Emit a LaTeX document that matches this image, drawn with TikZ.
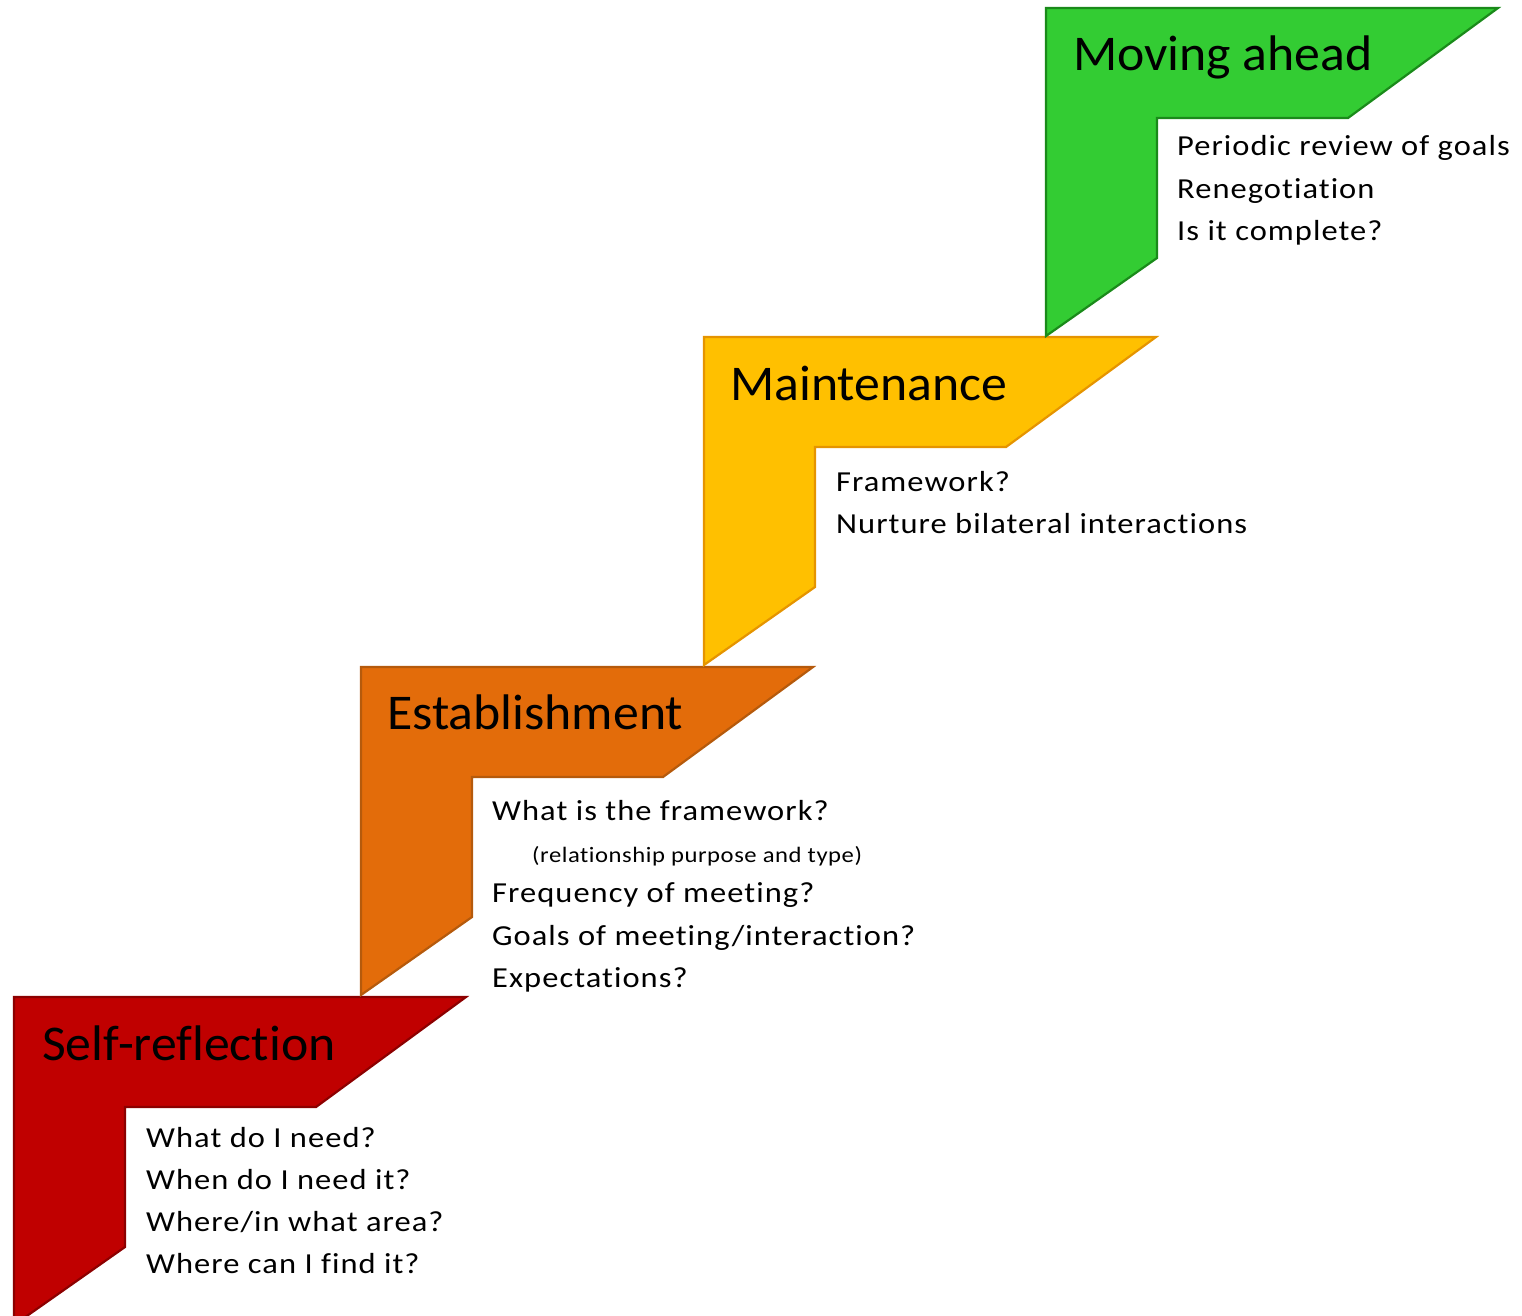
\documentclass[tikz,border=0pt]{standalone}
\usepackage{fontspec}
\setmainfont[Ligatures=NoCommon]{Carlito}
\newfontfamily\titlefont[Ligatures=NoCommon, FakeStretch=1.035]{Carlito}
\newfontfamily\bodyfont[Ligatures=NoCommon, FakeStretch=1.12, LetterSpace=3.6]{Carlito}
\newfontfamily\smallfont[Ligatures=NoCommon, FakeStretch=1.12, LetterSpace=2.5]{Carlito}
\definecolor{redfill}{HTML}{C00000}
\definecolor{reddraw}{HTML}{8C0000}
\definecolor{orafill}{HTML}{E36C0A}
\definecolor{oradraw}{HTML}{B55A0C}
\definecolor{yelfill}{HTML}{FFC000}
\definecolor{yeldraw}{HTML}{E59400}
\definecolor{grnfill}{HTML}{33CC33}
\definecolor{grndraw}{HTML}{1A8A1A}
\newcommand\stepshape[4]{%
  \filldraw[stepshape, fill=#3, draw=#4] (#1,#2) -- ++(452,0) -- ++(-150,110) -- ++(-191,0)
    -- ++(0,140) -- ++(-111,78) -- cycle;}
\tikzset{
  stepshape/.style={line width=2.2pt, line join=miter},
  title/.style={anchor=base west, inner sep=0pt, font=\titlefont\fontsize{50}{60}\selectfont},
  body/.style={anchor=base west, inner sep=0pt, font=\bodyfont\fontsize{29}{35}\selectfont},
  small/.style={anchor=base west, inner sep=0pt, font=\smallfont\fontsize{22}{26}\selectfont}
}
\begin{document}
\begin{tikzpicture}[x=1pt, y=-1pt]
\useasboundingbox (0,0) rectangle (1522,1316);
\clip (0,0) rectangle (1522,1316);
\stepshape{14}{997}{redfill}{reddraw}
\stepshape{361}{667}{orafill}{oradraw}
\stepshape{704}{337}{yelfill}{yeldraw}
\stepshape{1046}{8}{grnfill}{grndraw}
% titles
\node[title] (t1) at (42,1060) {Self-reflection};
\node[title] (t2) at (387,729) {Establishment};
\node[title] (t3) at (730,400) {Maintenance};
\node[title] (t4) at (1073,71) {Moving ahead};
% self-reflection
\node[body] (a1) at (146,1147) {What do I need?};
\node[body] (a2) at (146,1189) {When do I need it?};
\node[body] (a3) at (146,1231) {Where/in what area?};
\node[body] (a4) at (146,1273) {Where can I find it?};
% establishment
\node[body] (b1) at (492,820) {What is the framework?};
\node[small] (b2) at (532,862) {(relationship purpose and type)};
\node[body] (b3) at (492,902) {Frequency of meeting?};
\node[body] (b4) at (492,945) {Goals of meeting/interaction?};
\node[body] (b5) at (492,987) {Expectations?};
% maintenance
\node[body] (c1) at (836,491) {Framework?};
\node[body] (c2) at (836,533) {Nurture bilateral interactions};
% moving ahead
\node[body] (d1) at (1177,156) {Periodic review of goals};
\node[body] (d2) at (1177,198) {Renegotiation};
\node[body] (d3) at (1177,240) {Is it complete?};
\end{tikzpicture}
\end{document}
